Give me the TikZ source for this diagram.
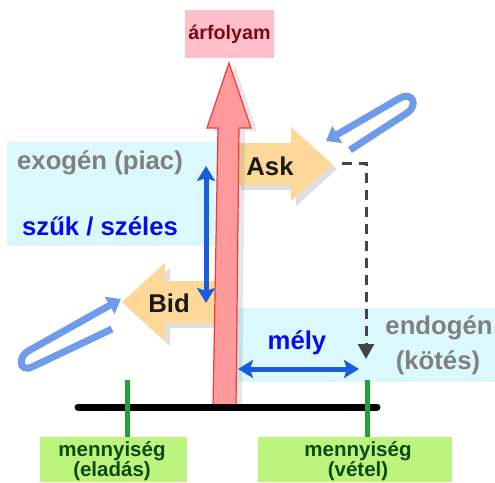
\documentclass[tikz,border=0pt]{standalone}
\usepackage{fontspec}
\setmainfont{Liberation Sans}
\usetikzlibrary{arrows.meta,shadows}
\definecolor{cyanbg}{HTML}{DBF8FC}
\definecolor{pinkbox}{HTML}{FFC0CB}
\definecolor{darkred}{HTML}{7A0A12}
\definecolor{redfill}{HTML}{FF9A9C}
\definecolor{redline}{HTML}{F23A3A}
\definecolor{tanfill}{HTML}{FDD898}
\definecolor{dblue}{HTML}{1B5CDD}
\definecolor{tblue}{HTML}{0A0AEE}
\definecolor{clipblue}{HTML}{6F9BEA}
\definecolor{ggreen}{HTML}{22A234}
\definecolor{lgreen}{HTML}{BDF47E}
\definecolor{dgreen}{HTML}{0B4A12}
\definecolor{greytext}{HTML}{808080}
\definecolor{dashgrey}{HTML}{444444}
\tikzset{
  big/.style={font=\bfseries\fontsize{25.7}{31}\selectfont, inner sep=0pt},
  mid/.style={font=\bfseries\fontsize{20.5}{20}\selectfont, inner sep=0pt, align=center, text=dgreen},
  bgbox/.style={fill=cyanbg, draw=none},
  tanarrow/.style={fill=tanfill, draw=none, drop shadow={shadow xshift=5pt, shadow yshift=-5pt, opacity=0.25, fill=gray}},
  dblarrow/.style={draw=dblue, line width=5pt, {Stealth[length=15pt,width=18pt,inset=3pt]}-{Stealth[length=15pt,width=18pt,inset=3pt]}},
  dashconn/.style={draw=dashgrey, line width=3pt, dash pattern=on 10pt off 7pt, -{Triangle[length=15pt,width=16pt]}},
  paperclip/.style={draw=clipblue, line width=7pt, -{Triangle[length=13pt,width=19pt]}},
  gline/.style={draw=ggreen, line width=5pt},
  gbox/.style={fill=lgreen, draw=none}
}
\begin{document}
\begin{tikzpicture}[x=1pt,y=-1pt]
\useasboundingbox (0,0) rectangle (495,482);
% background boxes
\fill[bgbox] (7,142) rectangle (220,246);
\fill[bgbox] (234,308) rectangle (495,382);
% arfolyam label
\fill[pinkbox] (185,10) rectangle (274,58);
\node[font=\bfseries\fontsize{19.7}{20}\selectfont, text=darkred, inner sep=0pt] (arf) at (229.5,34) {árfolyam};
% Bid arrow
\path[tanarrow] (218,281) -- (165,281) -- (165,263) -- (122,302) -- (165,341) -- (165,323) -- (218,323) -- cycle;
% Ask arrow
\path[tanarrow] (236,143) -- (291,143) -- (291,127) -- (332,164) -- (291,201) -- (291,185) -- (236,185) -- cycle;
% red price arrow
\path[fill=redfill, draw=redline, line width=1.2pt, drop shadow={shadow xshift=6pt, shadow yshift=-3pt, opacity=0.2, fill=gray}]
  (213,407) -- (218,128) -- (207,128) -- (229,63) -- (251,128) -- (239,128) -- (236,407) -- cycle;
% texts
\node[big, text=greytext] (exo) at (100,163) {exogén (piac)};
\node[big, text=tblue] (szuk) at (100,226) {szűk / széles};
\node[big, text=black!90] (ask) at (270,166) {Ask};
\node[big, text=black!90] (bid) at (169,303) {Bid};
\node[big, text=tblue] (mely) at (297,343) {mély};
\node[big, text=greytext] (endo) at (439,328) {endogén};
\node[big, text=greytext] (kotes) at (438,363) {(kötés)};
% double arrows
\coordinate (wT) at (206,166);
\coordinate (wB) at (206,303);
\draw[dblarrow] (wT) -- (wB);
\coordinate (mL) at (238,369);
\coordinate (mR) at (359,369);
\draw[dblarrow] (mL) -- (mR);
% dashed connector
\coordinate (dS) at (342,163);
\coordinate (dE) at (366,359);
\draw[dashconn] (dS) -| (dE);
% paper clips
\coordinate (c1a) at (112,329);
\coordinate (c1b) at (32,367);
\coordinate (c1c) at (30,350);
\coordinate (c1d) at (121,299);
\draw[paperclip] (c1a) -- (c1b) .. controls (19,373) and (17,356) .. (c1c) -- (c1d);
\coordinate (c2a) at (350,150);
\coordinate (c2b) at (407,113);
\coordinate (c2c) at (400,98);
\coordinate (c2d) at (326,141);
\draw[paperclip] (c2a) -- (c2b) .. controls (419,105) and (412,91) .. (c2c) -- (c2d);
% quantity axis
\coordinate (axL) at (78,407);
\coordinate (axR) at (377,407);
\draw[line width=7pt, line cap=round] (axL) -- (axR);
% green boxes
\fill[gbox] (40,437) rectangle (187,482);
\fill[gbox] (258,437) rectangle (452,482);
\node[mid] (qs) at (112,461) {mennyiség\\(eladás)};
\node[mid] (qb) at (358,461) {mennyiség\\(vétel)};
\coordinate (g1) at (127,380);
\coordinate (g1e) at (127,437);
\coordinate (g2) at (367,380);
\coordinate (g2e) at (367,437);
\draw[gline] (g1) -- (g1e);
\draw[gline] (g2) -- (g2e);
\end{tikzpicture}
\end{document}
